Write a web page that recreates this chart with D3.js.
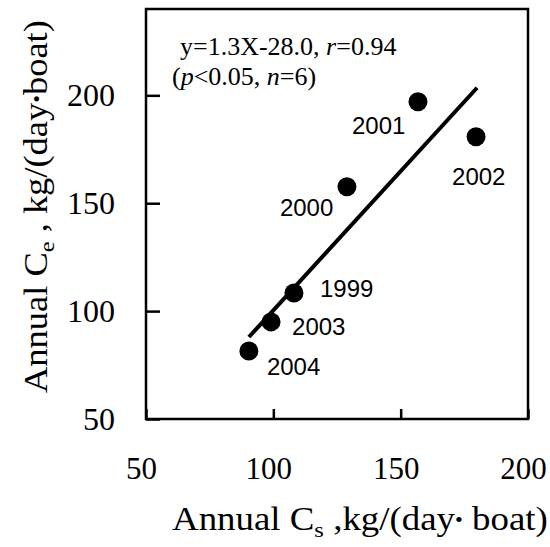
<!DOCTYPE html>
<html>
<head>
<meta charset="utf-8">
<script src="https://cdn.jsdelivr.net/npm/d3@7"></script>
<style>
  html, body { margin: 0; padding: 0; background: #fff; }
  svg { display: block; }
</style>
</head>
<body>
<svg id="chart" width="550" height="547"></svg>
<script>
(function() {
  'use strict';

  // Data
  const years = ['1999', '2000', '2001', '2002', '2003', '2004'];
  const cs = [108.1, 128.9, 156.8, 179.6, 99.1, 90.4];   // Annual Cs
  const ce = [108.4, 157.6, 197.0, 180.8, 95.0, 81.5];   // Annual Ce
  const fitX = [90.4, 180.0];
  const fitY = [88.0, 203.5];
  const xTicks = [50, 100, 150, 200];
  const yTicks = [50, 100, 150, 200];

  // label placement around each dot (dx, dy in px, baseline)
  const labelPos = {
    '1999': [26, 4], '2000': [-67, 29], '2001': [-66, 32],
    '2002': [-24, 48], '2003': [21, 13], '2004': [18, 24]
  };

  const svg = d3.select('#chart');
  const margin = { left: 146, right: 22, top: 9, bottom: 128 };
  const W = 550, H = 547;

  const x = d3.scaleLinear().domain([50, 200]).range([margin.left, W - margin.right]);
  const y = d3.scaleLinear().domain([50, 240]).range([H - margin.bottom, margin.top]);

  const serif = '"Liberation Serif", "Times New Roman", serif';
  const sans = '"Liberation Sans", Arial, sans-serif';

  // Frame
  svg.append('rect')
    .attr('x', x(50)).attr('y', y(240))
    .attr('width', x(200) - x(50)).attr('height', y(50) - y(240))
    .attr('fill', 'none').attr('stroke', '#000').attr('stroke-width', 2.5);

  // Y axis (inward ticks)
  const yAxis = svg.append('g')
    .attr('transform', `translate(${x(50)},0)`)
    .call(d3.axisLeft(y).tickValues(yTicks).tickSizeInner(-14).tickSizeOuter(0).tickPadding(31));
  yAxis.select('.domain').remove();
  yAxis.selectAll('line').attr('stroke', '#000').attr('stroke-width', 2.5);
  yAxis.selectAll('text').attr('font-family', serif).attr('font-size', 32).attr('fill', '#000');

  // X axis (inward ticks)
  const xAxis = svg.append('g')
    .attr('transform', `translate(0,${y(50)})`)
    .call(d3.axisBottom(x).tickValues(xTicks).tickSizeInner(-10).tickSizeOuter(0).tickPadding(38));
  xAxis.select('.domain').remove();
  xAxis.selectAll('line').attr('stroke', '#000').attr('stroke-width', 2.5);
  xAxis.selectAll('text').attr('font-family', serif).attr('font-size', 31).attr('fill', '#000')
    .attr('dx', -5);

  // Regression line
  svg.append('line')
    .attr('x1', x(fitX[0])).attr('y1', y(fitY[0]))
    .attr('x2', x(fitX[1])).attr('y2', y(fitY[1]))
    .attr('stroke', '#000').attr('stroke-width', 4);

  // Points
  const pts = years.map((yr, i) => ({ yr, cs: cs[i], ce: ce[i] }));
  svg.append('g').selectAll('circle')
    .data(pts).enter().append('circle')
    .attr('cx', d => x(d.cs)).attr('cy', d => y(d.ce))
    .attr('r', 9.5).attr('fill', '#000');

  svg.append('g').selectAll('text')
    .data(pts).enter().append('text')
    .attr('x', d => x(d.cs) + labelPos[d.yr][0])
    .attr('y', d => y(d.ce) + labelPos[d.yr][1])
    .attr('font-family', sans).attr('font-size', 24).attr('fill', '#000')
    .text(d => d.yr);

  // Equation
  const eq = svg.append('text')
    .attr('x', 180).attr('y', 55)
    .attr('font-family', serif).attr('font-size', 26).attr('fill', '#000');
  eq.append('tspan').text('y=1.3X-28.0, ');
  eq.append('tspan').attr('font-style', 'italic').text('r');
  eq.append('tspan').text('=0.94');

  const eq2 = svg.append('text')
    .attr('x', 172).attr('y', 85)
    .attr('font-family', serif).attr('font-size', 26).attr('fill', '#000');
  eq2.append('tspan').text('(');
  eq2.append('tspan').attr('font-style', 'italic').text('p');
  eq2.append('tspan').text('<0.05, ');
  eq2.append('tspan').attr('font-style', 'italic').text('n');
  eq2.append('tspan').text('=6)');

  // Axis titles: the original type is stretched wide, so scale to target length
  function title(g, sub, rest, targetLen) {
    const t = g.append('text')
      .attr('font-family', serif).attr('font-size', 33).attr('fill', '#000');
    t.append('tspan').text('Annual C');
    t.append('tspan').attr('font-size', 22).attr('dy', 7).text(sub);
    t.append('tspan').attr('dy', -7).text(rest[0]);
    t.append('tspan').attr('font-size', 20).attr('dy', -3).text('\u2022');
    t.append('tspan').attr('dy', 3).text(rest[1]);
    const w = t.node().getComputedTextLength();
    t.attr('transform', `scale(${targetLen / w},1)`);
  }

  title(svg.append('g').attr('transform', 'translate(172,530)'),
    's', ['  ,kg/(day', ' boat)'], 376);

  title(svg.append('g').attr('transform', 'translate(47,393) rotate(-90)'),
    'e', [' , kg/(day', 'boat)'], 373);
})();
</script>
</body>
</html>
